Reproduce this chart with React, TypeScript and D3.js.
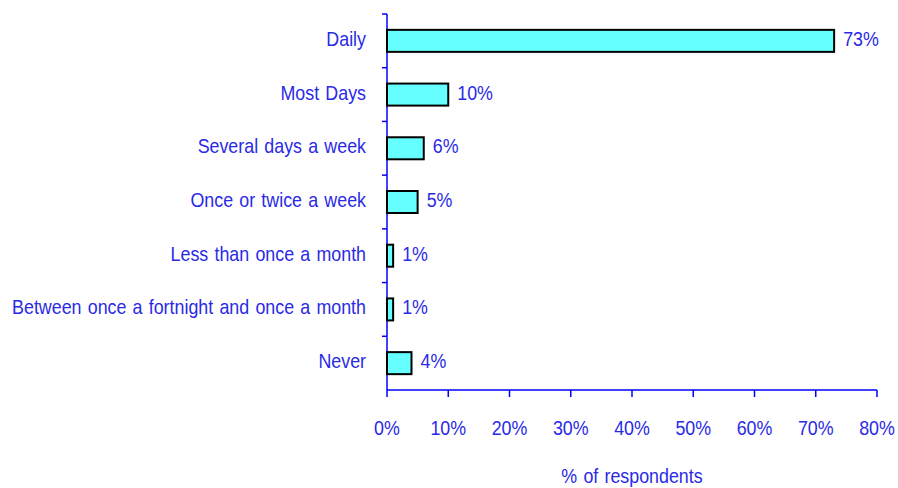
import React, { useEffect, useRef } from 'react';
import * as d3 from 'd3';

const categories = [
  'Daily',
  'Most Days',
  'Several days a week',
  'Once or twice a week',
  'Less than once a month',
  'Between once a fortnight and once a month',
  'Never',
];
const values = [73, 10, 6, 5, 1, 1, 4];
const xTicks = [0, 10, 20, 30, 40, 50, 60, 70, 80];

const width = 898;
const height = 488;
const margin = { top: 14, right: 21, bottom: 98, left: 387 };
const textColor = '#2a2ae6';
const axisColor = '#0000ff';
const font = '21px "Liberation Sans", Arial, sans-serif';
const squeeze = 0.85; // the original font is a narrow face

export default function App() {
  const ref = useRef<SVGSVGElement>(null);

  useEffect(() => {
    const svg = d3.select(ref.current);
    svg.selectAll('*').remove();

    const innerW = width - margin.left - margin.right;
    const innerH = height - margin.top - margin.bottom;

    const x = d3.scaleLinear().domain([0, 80]).range([0, innerW]);
    const y = d3.scaleBand().domain(categories).range([0, innerH]).paddingInner(0.59).paddingOuter(0.295);
    const yTicks = d3.scaleBand().domain(categories).range([0, innerH]);

    const g = svg.append('g').attr('transform', `translate(${margin.left},${margin.top})`);

    const label = (px: number, py: number, anchor: string, txt: string) =>
      g.append('text')
        .attr('transform', `translate(${px},${py}) scale(${squeeze},1)`)
        .attr('text-anchor', anchor)
        .attr('fill', textColor)
        .style('font', font)
        .style('word-spacing', '1.5px')
        .text(txt);

    // category separators on the y axis
    const tickYs = categories.map((c) => yTicks(c) as number);
    g.selectAll('line.ytick')
      .data(tickYs)
      .enter()
      .append('line')
      .attr('x1', -5)
      .attr('x2', 0)
      .attr('y1', (d) => d)
      .attr('y2', (d) => d)
      .attr('stroke', axisColor)
      .attr('stroke-width', 1.5);

    g.append('line')
      .attr('x1', 0).attr('x2', 0)
      .attr('y1', 0).attr('y2', innerH)
      .attr('stroke', axisColor).attr('stroke-width', 1.5);

    // x axis
    g.append('line')
      .attr('x1', 0).attr('x2', innerW)
      .attr('y1', innerH).attr('y2', innerH)
      .attr('stroke', axisColor).attr('stroke-width', 1.5);

    g.selectAll('line.xtick')
      .data(xTicks)
      .enter()
      .append('line')
      .attr('x1', (d) => x(d))
      .attr('x2', (d) => x(d))
      .attr('y1', innerH)
      .attr('y2', innerH + 7)
      .attr('stroke', axisColor)
      .attr('stroke-width', 1.5);

    xTicks.forEach((t) => label(x(t), innerH + 45, 'middle', t + '%'));

    // bars
    g.selectAll('rect.bar')
      .data(values)
      .enter()
      .append('rect')
      .attr('x', 0)
      .attr('y', (d, i) => y(categories[i]) as number)
      .attr('width', (d) => x(d))
      .attr('height', y.bandwidth())
      .attr('fill', '#66ffff')
      .attr('stroke', '#000')
      .attr('stroke-width', 2);

    values.forEach((v, i) =>
      label(x(v) + 9, (y(categories[i]) as number) + y.bandwidth() / 2 + 5, 'start', v + '%'));

    categories.forEach((c) =>
      label(-21, (yTicks(c) as number) + yTicks.bandwidth() / 2 + 5, 'end', c));

    label(innerW / 2, innerH + 93, 'middle', '% of respondents');
  }, []);

  return (
    <svg
      ref={ref}
      width={width}
      height={height}
      style={{ position: 'fixed', left: 0, top: 0, display: 'block', background: '#fff' }}
    />
  );
}
